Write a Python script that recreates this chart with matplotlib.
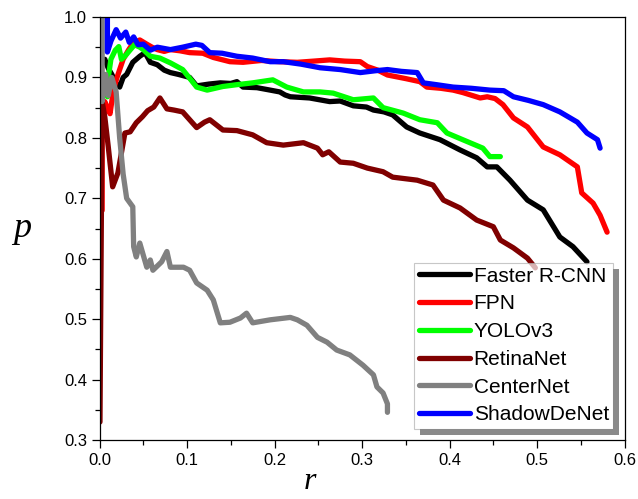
import matplotlib
matplotlib.use("Agg")
import matplotlib.pyplot as plt
from matplotlib.patches import Polygon
from matplotlib.ticker import MultipleLocator
from matplotlib.transforms import IdentityTransform

plt.rcParams['font.family'] = ['Liberation Sans', 'DejaVu Sans']

# values (recall r, precision p)
frcnn_r = [0.006, 0.010, 0.014, 0.019, 0.023, 0.027, 0.031, 0.038, 0.046, 0.052, 0.058, 0.066,
           0.074, 0.081, 0.090, 0.103, 0.111, 0.125, 0.138, 0.150, 0.157, 0.164, 0.180, 0.195,
           0.206, 0.212, 0.218, 0.240, 0.263, 0.275, 0.290, 0.305, 0.313, 0.325, 0.335, 0.343,
           0.351, 0.366, 0.389, 0.412, 0.431, 0.443, 0.454, 0.469, 0.489, 0.507, 0.526, 0.541, 0.557]
frcnn_p = [0.930, 0.915, 0.905, 0.890, 0.884, 0.900, 0.905, 0.925, 0.935, 0.941, 0.925, 0.921,
           0.912, 0.908, 0.905, 0.900, 0.886, 0.889, 0.891, 0.890, 0.893, 0.884, 0.883, 0.879,
           0.876, 0.871, 0.868, 0.866, 0.860, 0.861, 0.853, 0.851, 0.846, 0.843, 0.838, 0.828,
           0.818, 0.808, 0.797, 0.780, 0.767, 0.752, 0.752, 0.730, 0.697, 0.681, 0.636, 0.620, 0.595]

fpn_r = [0.003, 0.003, 0.006, 0.009, 0.012, 0.016, 0.020, 0.027, 0.033, 0.038, 0.046, 0.054,
         0.060, 0.066, 0.074, 0.081, 0.092, 0.103, 0.118, 0.130, 0.149, 0.164, 0.185, 0.206,
         0.226, 0.245, 0.263, 0.280, 0.298, 0.306, 0.318, 0.329, 0.350, 0.366, 0.374, 0.390,
         0.404, 0.415, 0.435, 0.443, 0.452, 0.461, 0.473, 0.489, 0.507, 0.526, 0.546, 0.551,
         0.564, 0.572, 0.580]
fpn_p = [0.680, 0.800, 0.860, 0.850, 0.840, 0.880, 0.900, 0.930, 0.945, 0.956, 0.962, 0.955,
         0.950, 0.946, 0.943, 0.946, 0.944, 0.941, 0.940, 0.933, 0.926, 0.925, 0.928, 0.926,
         0.925, 0.927, 0.929, 0.927, 0.926, 0.918, 0.912, 0.904, 0.898, 0.893, 0.884, 0.882,
         0.879, 0.875, 0.866, 0.868, 0.865, 0.855, 0.833, 0.818, 0.785, 0.772, 0.752, 0.709,
         0.692, 0.672, 0.644]

yolo_r = [0.009, 0.009, 0.013, 0.018, 0.022, 0.025, 0.029, 0.033, 0.040, 0.046, 0.050, 0.058,
          0.069, 0.081, 0.095, 0.105, 0.111, 0.123, 0.141, 0.157, 0.175, 0.198, 0.214, 0.233,
          0.252, 0.267, 0.290, 0.313, 0.324, 0.347, 0.366, 0.386, 0.397, 0.415, 0.438, 0.446, 0.458]
yolo_p = [0.868, 0.890, 0.930, 0.945, 0.951, 0.930, 0.935, 0.942, 0.954, 0.950, 0.946, 0.935,
          0.932, 0.924, 0.913, 0.895, 0.884, 0.879, 0.885, 0.888, 0.891, 0.896, 0.884, 0.876,
          0.876, 0.874, 0.863, 0.866, 0.850, 0.841, 0.830, 0.825, 0.808, 0.797, 0.783, 0.769, 0.769]

retina_r = [0.0005, 0.003, 0.006, 0.010, 0.015, 0.021, 0.029, 0.035, 0.042, 0.049, 0.055, 0.062,
            0.069, 0.077, 0.085, 0.095, 0.103, 0.111, 0.120, 0.126, 0.141, 0.157, 0.175, 0.191,
            0.210, 0.233, 0.249, 0.255, 0.262, 0.275, 0.290, 0.306, 0.324, 0.335, 0.363, 0.381,
            0.393, 0.412, 0.431, 0.450, 0.458, 0.473, 0.489, 0.498]
retina_p = [0.330, 0.860, 0.835, 0.785, 0.719, 0.742, 0.808, 0.810, 0.825, 0.835, 0.845, 0.851,
            0.866, 0.848, 0.846, 0.843, 0.830, 0.817, 0.826, 0.830, 0.813, 0.812, 0.805, 0.792,
            0.788, 0.792, 0.783, 0.772, 0.777, 0.760, 0.758, 0.750, 0.744, 0.735, 0.730, 0.722,
            0.697, 0.684, 0.664, 0.653, 0.631, 0.618, 0.601, 0.585]

center_r = [0.003, 0.003, 0.007, 0.010, 0.014, 0.019, 0.023, 0.027, 0.031, 0.038, 0.039, 0.042,
            0.046, 0.054, 0.058, 0.061, 0.071, 0.077, 0.081, 0.096, 0.103, 0.111, 0.123, 0.130,
            0.138, 0.149, 0.161, 0.168, 0.175, 0.195, 0.218, 0.226, 0.237, 0.249, 0.260, 0.271,
            0.286, 0.301, 0.313, 0.317, 0.324, 0.329, 0.329]
center_p = [1.000, 0.860, 0.905, 0.870, 0.900, 0.876, 0.800, 0.740, 0.700, 0.686, 0.620, 0.603,
            0.626, 0.586, 0.598, 0.581, 0.595, 0.612, 0.586, 0.586, 0.581, 0.560, 0.548, 0.532,
            0.494, 0.495, 0.502, 0.510, 0.494, 0.499, 0.503, 0.499, 0.490, 0.470, 0.462, 0.449,
            0.441, 0.424, 0.408, 0.388, 0.378, 0.360, 0.346]

shadow_r = [0.009, 0.009, 0.013, 0.019, 0.024, 0.030, 0.034, 0.039, 0.044, 0.050, 0.058, 0.066,
            0.081, 0.095, 0.110, 0.117, 0.126, 0.140, 0.157, 0.175, 0.195, 0.210, 0.230, 0.252,
            0.275, 0.298, 0.315, 0.329, 0.345, 0.363, 0.370, 0.385, 0.404, 0.425, 0.446, 0.462,
            0.473, 0.490, 0.507, 0.526, 0.546, 0.557, 0.569, 0.572]
shadow_p = [1.000, 0.942, 0.960, 0.979, 0.965, 0.975, 0.958, 0.967, 0.954, 0.955, 0.945, 0.950,
            0.946, 0.950, 0.955, 0.953, 0.941, 0.940, 0.935, 0.932, 0.926, 0.926, 0.922, 0.916,
            0.913, 0.908, 0.911, 0.913, 0.910, 0.908, 0.891, 0.888, 0.884, 0.882, 0.879, 0.878,
            0.868, 0.862, 0.855, 0.843, 0.826, 0.808, 0.797, 0.783]

names = ['Faster R-CNN', 'FPN', 'YOLOv3', 'RetinaNet', 'CenterNet', 'ShadowDeNet']
colors = ['#000000', '#ff0000', '#00ff00', '#800000', '#808080', '#0000ff']
curves = [(frcnn_r, frcnn_p), (fpn_r, fpn_p), (yolo_r, yolo_p),
          (retina_r, retina_p), (center_r, center_p), (shadow_r, shadow_p)]

fig = plt.figure(figsize=(6.38, 4.99), dpi=100)
ax = fig.add_axes([0.156, 0.118, 0.823, 0.848])

for (r, p), name, c in zip(curves, names, colors):
    ax.plot(r, p, color=c, lw=3.8, label=name, solid_joinstyle='round', solid_capstyle='round')

ax.set_xlim(0, 0.6)
ax.set_ylim(0.3, 1.0)
ax.xaxis.set_major_locator(MultipleLocator(0.1))
ax.xaxis.set_minor_locator(MultipleLocator(0.05))
ax.yaxis.set_major_locator(MultipleLocator(0.1))
ax.yaxis.set_minor_locator(MultipleLocator(0.05))
ax.tick_params(which='both', direction='out', top=False, right=False, labelsize=12, width=0.9)
ax.tick_params(which='major', length=6, pad=3)
ax.tick_params(which='minor', length=3.5)
for s in ax.spines.values():
    s.set_linewidth(0.9)

# the r label sits left of the axis centre in the original
ax.set_xlabel('r', family='Liberation Serif', style='italic', fontsize=23, va='center')
ax.xaxis.set_label_coords(0.40, -0.097)
ax.set_ylabel('p', family='Liberation Serif', style='italic', fontsize=26, rotation=0,
              labelpad=30, va='center')

leg = ax.legend(loc='lower right', fontsize=15, labelspacing=0.42, handlelength=2.45,
                handletextpad=0.2, borderpad=0.2, borderaxespad=0.55, fancybox=False,
                framealpha=0.7, edgecolor='#b0b0b0')
leg.get_frame().set_linewidth(0.8)

# drop shadow to the right and below the legend box
fig.canvas.draw()
bb = leg.get_frame().get_window_extent()
d = 6
pts = [(bb.x0 + d, bb.y0 - d), (bb.x1 + d, bb.y0 - d), (bb.x1 + d, bb.y1 - d),
       (bb.x1, bb.y1 - d), (bb.x1, bb.y0), (bb.x0 + d, bb.y0)]
fig.add_artist(Polygon(pts, closed=True, transform=IdentityTransform(),
                       facecolor='#8a8a8a', edgecolor='none', zorder=10))

fig.savefig('out.png', dpi=100)
